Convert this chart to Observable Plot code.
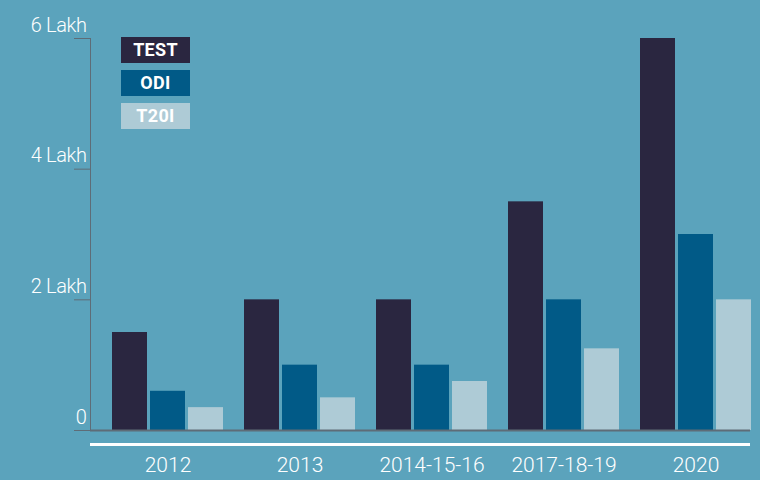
<!DOCTYPE html>
<html>
<head>
<meta charset="utf-8">
<script src="https://cdn.jsdelivr.net/npm/d3@7"></script>
<script src="https://cdn.jsdelivr.net/npm/@observablehq/plot@0.6"></script>
<style>
  html, body { margin: 0; padding: 0; background: #5ba3bc; }
  #wrap { position: relative; width: 760px; height: 480px; background: #5ba3bc; overflow: hidden; font-family: Roboto, "Noto Sans", sans-serif; }
  #legend { position: absolute; left: 121px; top: 37px; }
  .key { width: 69px; height: 26px; margin-bottom: 7px; color: #fff; font-weight: 700; font-size: 18px; line-height: 26px; text-align: center; letter-spacing: 0.3px; }
  #chart svg text { fill: #ffffff; font-weight: 300; }
</style>
</head>
<body>
<div id="wrap"><div id="chart"></div><div id="legend"></div></div>
<script>
const groups = ["2012", "2013", "2014-15-16", "2017-18-19", "2020"];
const series = ["TEST", "ODI", "T20I"];
const colors = ["#2a2640", "#015a87", "#aecbd6"];
const testVals = [1.5, 2, 2, 3.5, 6];
const odiVals = [0.6, 1, 1, 2, 3];
const t20Vals = [0.35, 0.5, 0.75, 1.25, 2];
const yTicks = [0, 2, 4, 6];
const yTickLabels = ["0", "2 Lakh", "4 Lakh", "6 Lakh"];

const valuesBySeries = [testVals, odiVals, t20Vals];
const rows = series.map((s, i) => groups.map((g, j) => ({group: g, series: s, value: valuesBySeries[i][j]})));

const bandwidth = 111, barW = 35, gap = 3;
const insets = series.map((s, i) => ({
  insetLeft: i * (barW + gap),
  insetRight: bandwidth - i * (barW + gap) - barW
}));

const axisGray = "#5e6c77";
const chart = Plot.plot({
  width: 760,
  height: 480,
  marginTop: 38,
  marginBottom: 50,
  marginLeft: 90,
  marginRight: 10,
  style: {background: "transparent", fontFamily: "Roboto, 'Noto Sans', sans-serif", fontSize: "21px", color: axisGray, overflow: "visible"},
  x: {
    domain: groups,
    range: [112, 751],
    paddingInner: 21 / 132,
    paddingOuter: 0,
    tickSize: 0,
    tickPadding: 27,
    label: null
  },
  y: {
    domain: [0, 6],
    ticks: yTicks,
    tickFormat: d => yTickLabels[yTicks.indexOf(d)],
    tickSize: 16,
    tickPadding: -12,
    line: true,
    label: null
  },
  marks: [
    ...rows.map((data, i) => Plot.barY(data, {
      x: "group", y: "value", fill: colors[i],
      insetLeft: insets[i].insetLeft, insetRight: insets[i].insetRight
    })),
    Plot.ruleY([0], {stroke: axisGray, strokeWidth: 2}),
    Plot.ruleY([0], {stroke: "#ffffff", strokeWidth: 3, dy: 14})
  ]
});

d3.select(chart).selectAll("[aria-label^='y-axis'] text").attr("dy", "-0.66em").style("font-size", "20px").style("letter-spacing", "-0.4px");

document.getElementById("chart").appendChild(chart);

const legend = document.getElementById("legend");
series.forEach((s, i) => {
  const k = document.createElement("div");
  k.className = "key";
  k.style.background = colors[i];
  k.textContent = s;
  legend.appendChild(k);
});
</script>
</body>
</html>
